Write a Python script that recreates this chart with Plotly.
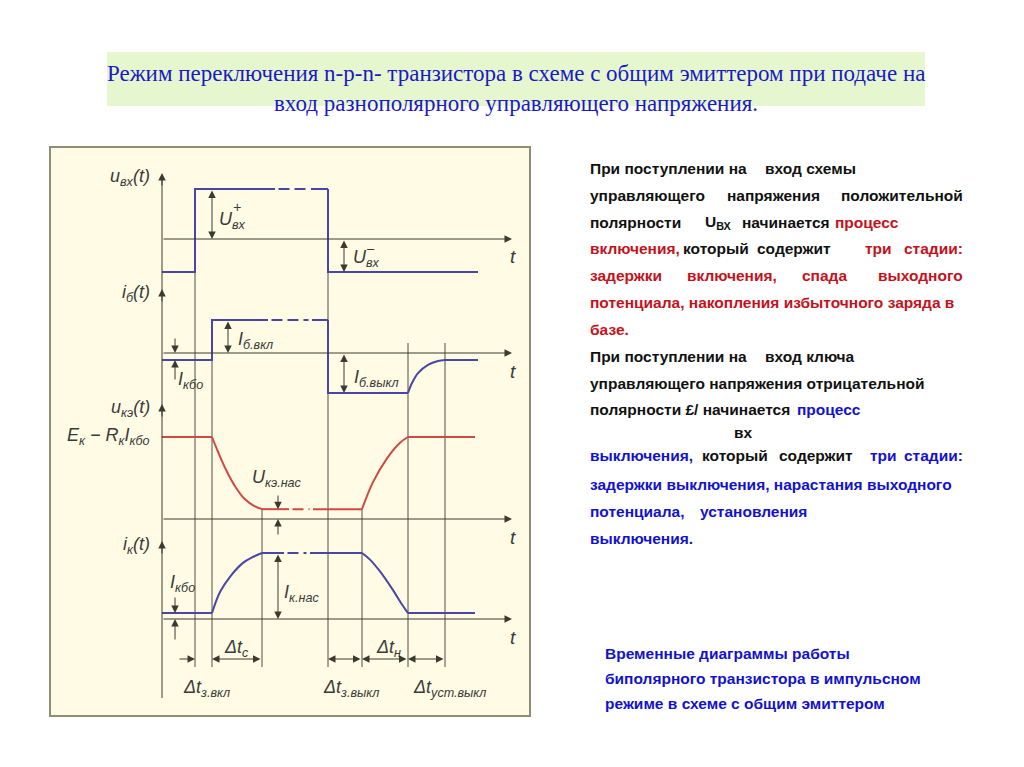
import plotly.graph_objects as go

# ---------------- data (schematic, relative units) ----------------
# switching instants along the time axis
EVENT_T = [3.3, 5.0, 10.0, 16.6, 20.0, 24.6, 28.3]   # in_on, b_on, sat, in_off, desat, off, settled
T_AXIS_END = 35.0
T_END_IN = 31.6
T_END_OUT = 31.3

# input voltage u_вх(t)
U_IN_PLUS = 1.0
U_IN_MINUS = -0.66
# base current i_б(t)
I_B_ON = 1.0
I_B_OFF = -1.21
I_B_KBO = -0.21
# collector-emitter voltage u_кэ(t)
U_CE_HIGH = 1.0
U_CE_SAT = 0.12
# collector current i_к(t)
I_C_SAT = 1.0
I_C_KBO = 0.09

# transient curves
UCE_FALL_T = [5.0, 5.6, 6.4, 7.3, 8.3, 9.2, 10.0]
UCE_FALL_V = [1.0, 0.82, 0.60, 0.40, 0.24, 0.16, 0.12]
UCE_RISE_T = [20.0, 21.1, 22.5, 23.8, 24.6]
UCE_RISE_V = [0.12, 0.45, 0.74, 0.93, 1.0]
IC_RISE_T = [5.0, 5.8, 6.8, 8.1, 9.1, 10.0]
IC_RISE_V = [0.09, 0.41, 0.64, 0.85, 0.94, 1.0]
IC_FALL_T = [20.0, 20.8, 21.8, 23.0, 24.0, 24.6]
IC_FALL_V = [1.0, 0.90, 0.72, 0.46, 0.22, 0.09]
IB_REC_T = [24.6, 25.0, 25.6, 26.6, 27.6, 28.3]
IB_REC_V = [-1.21, -0.91, -0.61, -0.36, -0.24, -0.21]

# ---------------- layout geometry / styles ----------------
W, H = 1024, 767
OFF = 8                      # page body margin of the html page
X0_PX, X_SCALE = 162, 10.0
PANELS = [(239, 50.0), (353, 33.0), (519, 82.0), (619, 66.0)]   # zero row px, px per unit
YIDS = ["y", "y2", "y3", "y4"]
BLUE = "#4a46a6"
RED = "#d04a44"
AXC = "#3a3a30"
GRIDC = "#4f4f44"
LBL = "#3a3a3a"
BOX_FILL = "#fffbe4"
BOX_LINE = "#8e8e72"

t_in_on, t_b_on, t_sat, t_in_off, t_desat, t_off, t_set = EVENT_T


def yv(panel, px):
    z, s = PANELS[panel]
    return (z - px) / s


def ypx(panel, v):
    z, s = PANELS[panel]
    return z - v * s


def pxp(px):
    return (px - OFF) / W


def pyp(py):
    return 1 - (py - OFF) / H


fig = go.Figure()


def add_line(panel, xs, ys, color, width=2, dash="solid", shape="linear"):
    fig.add_trace(go.Scatter(x=xs, y=ys, mode="lines", yaxis=YIDS[panel], xaxis="x",
                             line=dict(color=color, width=width, dash=dash, shape=shape,
                                       smoothing=1.0 if shape == "spline" else None),
                             hoverinfo="skip", showlegend=False))


def flat_with_break(panel, t0, t1, v, b0, b1, color):
    add_line(panel, [t0, b0, None, b1, t1], [v, v, None, v, v], color)
    add_line(panel, [b0 + 0.35, b1 - 0.35], [v, v], color, dash="11px,5px")


# --- u_вх(t)
add_line(0, [0, t_in_on, t_in_on, 11.3], [U_IN_MINUS, U_IN_MINUS, U_IN_PLUS, U_IN_PLUS], BLUE)
flat_with_break(0, 11.3, t_in_off, U_IN_PLUS, 11.3, 14.9, BLUE)
add_line(0, [t_in_off, t_in_off, T_END_IN], [U_IN_PLUS, U_IN_MINUS, U_IN_MINUS], BLUE)

# --- i_б(t)
add_line(1, [0, t_b_on, t_b_on, 10.6], [I_B_KBO, I_B_KBO, I_B_ON, I_B_ON], BLUE)
flat_with_break(1, 10.6, t_in_off, I_B_ON, 10.6, 15.0, BLUE)
add_line(1, [t_in_off, t_in_off, t_off], [I_B_ON, I_B_OFF, I_B_OFF], BLUE)
add_line(1, IB_REC_T, IB_REC_V, BLUE, shape="spline")
add_line(1, [t_set, T_END_IN], [I_B_KBO, I_B_KBO], BLUE)

# --- u_кэ(t)
add_line(2, [0, t_b_on], [U_CE_HIGH, U_CE_HIGH], RED)
add_line(2, UCE_FALL_T, UCE_FALL_V, RED, shape="spline")
flat_with_break(2, t_sat, t_desat, U_CE_SAT, 12.7, 15.1, RED)
add_line(2, UCE_RISE_T, UCE_RISE_V, RED, shape="spline")
add_line(2, [t_off, T_END_OUT], [U_CE_HIGH, U_CE_HIGH], RED)

# --- i_к(t)
add_line(3, [0, t_b_on], [I_C_KBO, I_C_KBO], BLUE)
add_line(3, IC_RISE_T, IC_RISE_V, BLUE, shape="spline")
flat_with_break(3, t_sat, t_desat, I_C_SAT, 12.2, 14.8, BLUE)
add_line(3, IC_FALL_T, IC_FALL_V, BLUE, shape="spline")
add_line(3, [t_off, T_END_OUT], [I_C_KBO, I_C_KBO], BLUE)

# ---------------- shapes ----------------
shapes = []
# title banner
shapes.append(dict(type="rect", xref="paper", yref="paper", x0=pxp(107), x1=pxp(925),
                   y0=pyp(106), y1=pyp(52), fillcolor="#e6f7cf", line=dict(width=0), layer="below"))
# diagram box
shapes.append(dict(type="rect", xref="paper", yref="paper", x0=pxp(50), x1=pxp(530),
                   y0=pyp(716), y1=pyp(147), fillcolor=BOX_FILL,
                   line=dict(color=BOX_LINE, width=2), layer="below"))
# vertical main axis
shapes.append(dict(type="line", xref="x", yref="paper", x0=0, x1=0, y0=pyp(698), y1=pyp(178),
                   line=dict(color=AXC, width=1)))
# vertical guide lines: (time, top in px)
GUIDE_BOTTOM = 667
guides = [(t_in_on, ypx(0, U_IN_MINUS)), (t_b_on, ypx(1, I_B_ON)), (t_sat, ypx(2, U_CE_SAT)),
          (t_in_off, ypx(0, U_IN_MINUS)), (t_desat, ypx(2, U_CE_SAT)),
          (t_off, 343), (t_set, 343)]
for t, top in guides:
    shapes.append(dict(type="line", xref="x", yref="paper", x0=t, x1=t, y0=pyp(GUIDE_BOTTOM),
                       y1=pyp(top), line=dict(color=GRIDC, width=1), layer="below"))

# ---------------- annotations ----------------
ann = []


def arrow(panel, xh, yh, xt, yt, both=False, color=AXC, size=1.5):
    yid = YIDS[panel]
    d = dict(x=xh, y=yh, ax=xt, ay=yt, xref="x", yref=yid, axref="x", ayref=yid, text="",
             showarrow=True, arrowhead=2, arrowsize=size, arrowwidth=1, arrowcolor=color,
             standoff=0, startstandoff=0)
    if both:
        d.update(arrowside="end+start", startarrowhead=2, startarrowsize=size)
    ann.append(d)


# time axes with arrows
for p in range(4):
    arrow(p, T_AXIS_END, 0, 0, 0)
# vertical axis arrow tips
for p, tip in enumerate([173, 289, 404, 541]):
    arrow(p, 0, yv(p, tip), 0, yv(p, tip + 14))

# magnitude markers
arrow(0, t_b_on, 0, t_b_on, U_IN_PLUS, both=True)                 # U+вх
arrow(0, 18.2, U_IN_MINUS, 18.2, 0, both=True)                    # U-вх
arrow(1, 6.6, 0, 6.6, I_B_ON, both=True)                          # Iб.вкл
arrow(1, 18.2, I_B_OFF, 18.2, 0, both=True)                       # Iб.выкл
arrow(1, 1.3, 0, 1.3, yv(1, 337))                                 # Iкбо (base), from above
arrow(1, 1.3, I_B_KBO, 1.3, yv(1, 381))                           # Iкбо (base), from below
arrow(2, 11.6, U_CE_SAT, 11.6, yv(2, 494))                        # Uкэ.нас
arrow(2, 11.6, 0, 11.6, yv(2, 536))
arrow(3, 11.6, 0, 11.6, I_C_SAT, both=True)                       # Iк.нас
arrow(3, 1.3, I_C_KBO, 1.3, yv(3, 596))                           # Iкбо (collector)
arrow(3, 1.3, 0, 1.3, yv(3, 641))

# interval markers
yd = yv(3, 659)
arrow(3, t_in_on, yd, 1.6, yd)
arrow(3, t_b_on, yd, t_sat, yd, both=True)
arrow(3, t_in_off, yd, t_desat, yd, both=True)
arrow(3, t_desat, yd, t_off, yd, both=True)
arrow(3, t_off, yd, t_set, yd, both=True)


def label(text, px, py, anchor="left", size=18, color=LBL):
    ann.append(dict(text=text, x=pxp(px), y=pyp(py), xref="paper", yref="paper",
                    xanchor=anchor, yanchor="middle", showarrow=False,
                    font=dict(family="Liberation Sans, Arial", size=size, color=color, style="italic")))


label("u<sub>вх</sub>(t)", 152, 178, "right")
label("i<sub>б</sub>(t)", 152, 293, "right")
label("u<sub>кэ</sub>(t)", 152, 408, "right")
label("E<sub>к</sub> − R<sub>к</sub>I<sub>кбо</sub>", 152, 437, "right")
label("i<sub>к</sub>(t)", 152, 545, "right")
for ty in [257, 371, 537, 637]:
    label("t", 513, ty, "center", size=19)

label("U<sub>вх</sub>", 217, 220)
label("+", 231, 207, size=14)
label("U<sub>вх</sub>", 351, 258)
label("–", 364, 248, size=13)
label("I<sub>б.вкл</sub>", 236, 340)
label("I<sub>б.выкл</sub>", 352, 378)
label("I<sub>кбо</sub>", 176, 380)
label("U<sub>кэ.нас</sub>", 250, 479)
label("I<sub>кбо</sub>", 168, 583)
label("I<sub>к.нас</sub>", 282, 593)
label("Δt<sub>c</sub>", 222, 648)
label("Δt<sub>н</sub>", 374, 648)
label("Δt<sub>з.вкл</sub>", 181, 688)
label("Δt<sub>з.выкл</sub>", 321, 688)
label("Δt<sub>уст.выкл</sub>", 411, 688)

# ---------------- title ----------------
TITLE_C = "#1a1ac4"
for txt, py in [("Режим переключения n-p-n- транзистора в схеме с общим эмиттером при подаче на", 73),
                ("вход разнополярного управляющего напряжения.", 103)]:
    ann.append(dict(text=txt, x=pxp(516), y=pyp(py), xref="paper", yref="paper", xanchor="center",
                    yanchor="middle", showarrow=False,
                    font=dict(family="Liberation Serif, Times New Roman", size=23, color=TITLE_C)))

# ---------------- right-hand text ----------------
K, R, B = "#111111", "#c4121c", "#1212cc"
TEXT_LINES = [
    (168, [("При поступлении на", K, 588, "left"), ("вход схемы", K, 763, "left")]),
    (195, [("управляющего", K, 588, "left"), ("напряжения", K, 725, "left"), ("положительной", K, 965, "right")]),
    (222, [("полярности", K, 588, "left"), ("U<sub>ВХ</sub>", K, 703, "left"), ("начинается", K, 740, "left"),
           ("процесс", R, 833, "left")]),
    (248, [("включения,", R, 588, "left"), ("который", K, 681, "left"), ("содержит", K, 755, "left"),
           ("три", R, 863, "left"), ("стадии:", R, 965, "right")]),
    (275, [("задержки", R, 588, "left"), ("включения,", R, 685, "left"), ("спада", R, 800, "left"),
           ("выходного", R, 965, "right")]),
    (302, [("потенциала, накопления избыточного заряда в", R, 588, "left")]),
    (329, [("базе.", R, 588, "left")]),
    (356, [("При поступлении на", K, 588, "left"), ("вход ключа", K, 763, "left")]),
    (383, [("управляющего напряжения отрицательной", K, 588, "left")]),
    (410, [("полярности £/ начинается", K, 588, "left"), ("процесс", B, 795, "left")]),
    (432, [("вх", K, 743, "center")]),
    (456, [("выключения,", B, 588, "left"), ("который", K, 700, "left"), ("содержит", K, 777, "left"),
           ("три", B, 868, "left"), ("стадии:", B, 965, "right")]),
    (484, [("задержки выключения, нарастания выходного", B, 588, "left")]),
    (511, [("потенциала,", B, 588, "left"), ("установления", B, 698, "left")]),
    (538, [("выключения.", B, 588, "left")]),
    (653, [("Временные диаграммы работы", B, 603, "left")]),
    (678, [("биполярного транзистора в импульсном", B, 603, "left")]),
    (703, [("режиме в схеме с общим эмиттером", B, 603, "left")]),
]
for py, segs in TEXT_LINES:
    for txt, col, px, anc in segs:
        ann.append(dict(text="<b>" + txt + "</b>", x=pxp(px), y=pyp(py), xref="paper", yref="paper",
                        xanchor=anc, yanchor="middle", showarrow=False,
                        font=dict(family="Liberation Sans, Arial", size=15.5, color=col)))

# ---------------- axes ----------------
x0f = X0_PX - OFF
layout_axes = dict(
    xaxis=dict(domain=[0, 1], range=[-x0f / X_SCALE, (W - x0f) / X_SCALE], visible=False, fixedrange=True),
)
for i, (z, s) in enumerate(PANELS):
    zf = z - OFF
    key = "yaxis" if i == 0 else f"yaxis{i + 1}"
    d = dict(domain=[0, 1], range=[-(H - zf) / s, zf / s], visible=False, fixedrange=True)
    if i > 0:
        d["overlaying"] = "y"
    layout_axes[key] = d

fig.update_layout(width=W, height=H, autosize=False, margin=dict(l=0, r=0, t=0, b=0),
                  paper_bgcolor="white", plot_bgcolor="rgba(0,0,0,0)",
                  shapes=shapes, annotations=ann, showlegend=False, **layout_axes)

fig.write_html("out.html")
